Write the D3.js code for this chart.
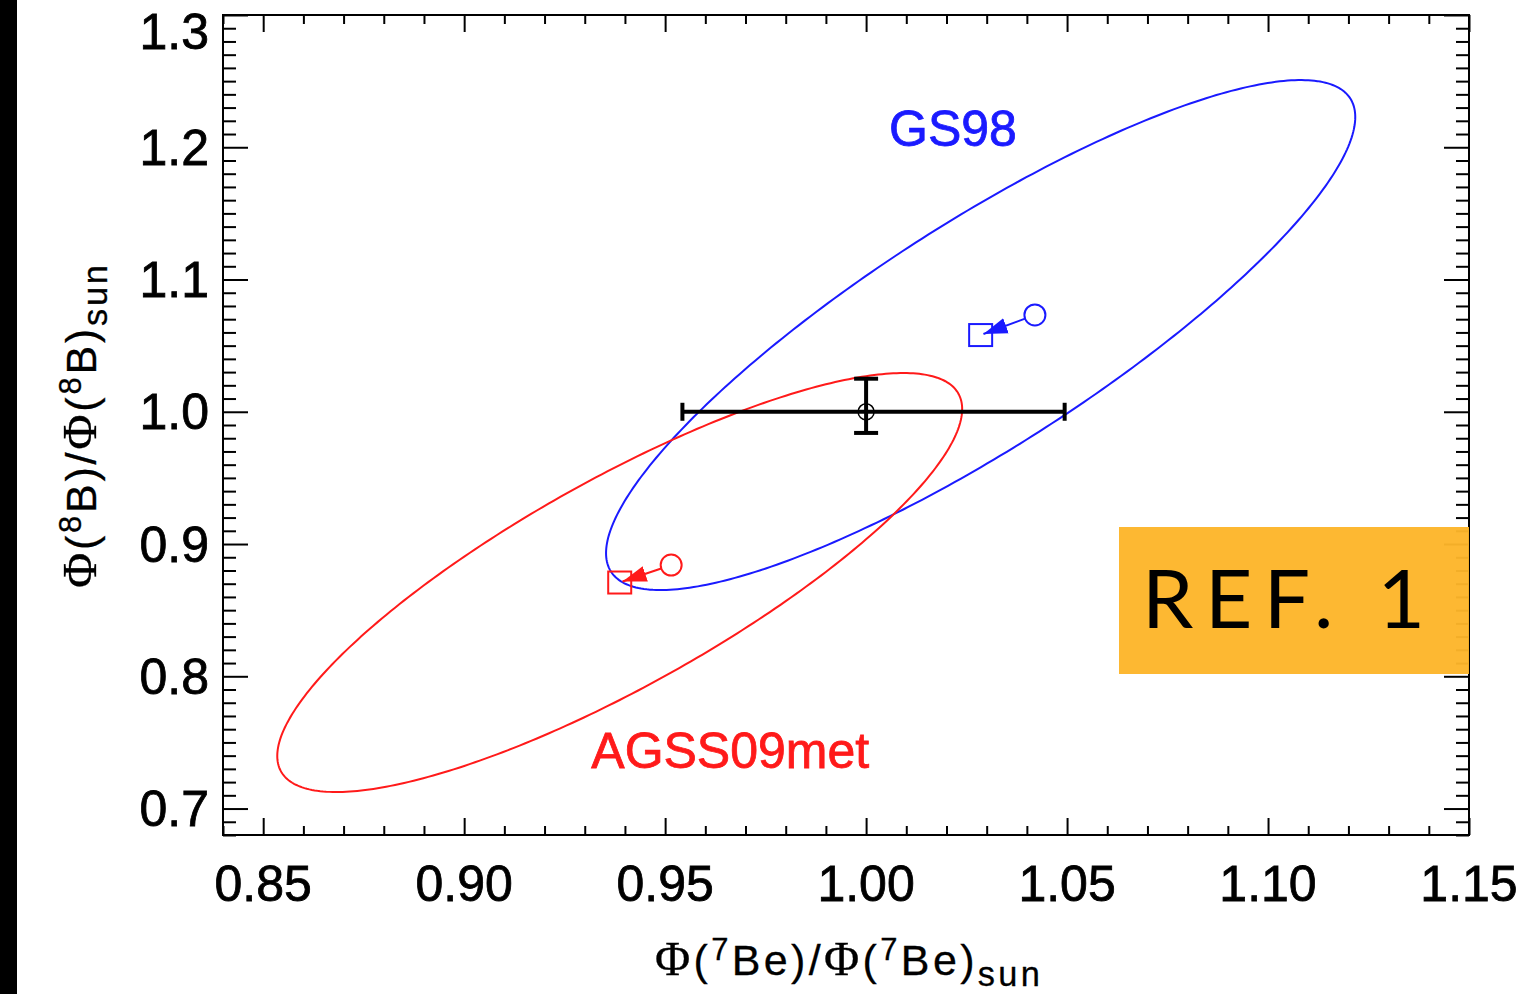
<!DOCTYPE html>
<html>
<head>
<meta charset="utf-8">
<script src="https://cdn.jsdelivr.net/npm/d3@7"></script>
<style>
  body { margin: 0; background: #fff; }
  svg { display: block; }
  text { font-family: "Liberation Sans", Arial, sans-serif; }
</style>
</head>
<body>
<svg id="chart" width="1522" height="994"></svg>
<script>
// axis ticks
const xTicks = [0.85, 0.90, 0.95, 1.00, 1.05, 1.10, 1.15]
const yTicks = [0.7, 0.8, 0.9, 1.0, 1.1, 1.2, 1.3]

// solar models: square = prediction, circle = previous value, ellipse = 1 sigma
const models = ['GS98', 'AGSS09met']
const sqX = [1.0285, 0.9387]
const sqY = [1.058, 0.8709]
const circX = [1.0420, 0.9515]
const circY = [1.0732, 0.8841]
const ellSx = [0.0932, 0.0852]
const ellSy = [0.1928, 0.1584]
const ellRho = [0.855, 0.828]
const labelX = [1.0216, 0.9662]
const labelY = [1.201, 0.7307]

// measurement
const measX = [1.00]
const measY = [1.00]
const errXLow = [0.0457]
const errXHigh = [0.0494]
const errYUp = [0.025]
const errYDown = [0.016]

const colors = ['#1a1aff', '#ff1a1a']

const svg = d3.select('#chart')
const pLeft = 223, pRight = 1469, pTop = 15, pBottom = 835

const x = d3.scaleLinear().domain([0.84, 1.15]).range([pLeft, pRight])
const y = d3.scaleLinear().domain([0.68, 1.30]).range([pBottom, pTop])

svg.append('rect').attr('x', 0).attr('y', 0).attr('width', 17).attr('height', 994).attr('fill', '#000')

svg.append('defs').selectAll('marker')
    .data(models)
    .enter()
    .append('marker')
        .attr('id', (d, i) => 'arrow' + i)
        .attr('viewBox', '0 -10 24 20')
        .attr('refX', 24).attr('refY', 0)
        .attr('markerUnits', 'userSpaceOnUse')
        .attr('markerWidth', 24).attr('markerHeight', 20)
        .attr('orient', 'auto')
    .append('path')
        .attr('d', 'M0,-8L24,0L0,8Z')
        .attr('fill', (d, i) => colors[i])

// ticks, mirrored on all sides
const minorX = d3.range(84, 116).map(v => v / 100).filter(v => !xTicks.some(t => Math.abs(t - v) < 1e-6))
const minorY = d3.range(68, 131).map(v => v / 100).filter(v => !yTicks.some(t => Math.abs(t - v) < 1e-6))

function tickAxis(axisFn, scale, vals, size, tr){
    const g = svg.append('g')
        .attr('transform', tr)
        .call(axisFn(scale).tickValues(vals).tickSize(size).tickFormat(''))
    g.select('.domain').remove()
    g.selectAll('line').attr('stroke', '#000').attr('stroke-width', 2)
    return g
}
tickAxis(d3.axisBottom, x, xTicks, -17, `translate(0,${pBottom})`)
tickAxis(d3.axisBottom, x, minorX, -9, `translate(0,${pBottom})`)
tickAxis(d3.axisTop, x, xTicks, -17, `translate(0,${pTop})`)
tickAxis(d3.axisTop, x, minorX, -9, `translate(0,${pTop})`)
tickAxis(d3.axisLeft, y, yTicks, -25, `translate(${pLeft},0)`)
tickAxis(d3.axisLeft, y, minorY, -13, `translate(${pLeft},0)`)
tickAxis(d3.axisRight, y, yTicks, -25, `translate(${pRight},0)`)
tickAxis(d3.axisRight, y, minorY, -13, `translate(${pRight},0)`)

svg.append('rect')
    .attr('x', pLeft).attr('y', pTop)
    .attr('width', pRight - pLeft).attr('height', pBottom - pTop)
    .attr('fill', 'none').attr('stroke', '#000').attr('stroke-width', 2)

// tick labels
svg.selectAll('.xlab')
    .data(xTicks)
    .enter()
    .append('text')
        .attr('x', d => x(d))
        .attr('y', 901)
        .attr('text-anchor', 'middle')
        .style('font-size', '50px')
        .attr('stroke', '#000').attr('stroke-width', 0.8)
        .text(d3.format('.2f'))

svg.selectAll('.ylab')
    .data(yTicks)
    .enter()
    .append('text')
        .attr('x', 209)
        .attr('y', d => Math.max(y(d), 31))
        .attr('dy', '0.35em')
        .attr('text-anchor', 'end')
        .style('font-size', '50px')
        .attr('stroke', '#000').attr('stroke-width', 0.8)
        .text(d3.format('.1f'))

// ellipses
const line = d3.line().curve(d3.curveLinearClosed)
models.forEach((m, i) => {
    const pts = d3.range(0, 360, 1).map(a => {
        const t = a * Math.PI / 180
        const dx = ellSx[i] * Math.cos(t)
        const dy = ellSy[i] * (ellRho[i] * Math.cos(t) + Math.sqrt(1 - ellRho[i] * ellRho[i]) * Math.sin(t))
        return [x(sqX[i] + dx), y(sqY[i] + dy)]
    })
    svg.append('path')
        .attr('d', line(pts))
        .attr('fill', 'none')
        .attr('stroke', colors[i])
        .attr('stroke-width', 2)
})

// measurement with error bars
const meas = svg.append('g')
measX.forEach((mx, i) => {
    const my = measY[i]
    meas.append('line')
        .attr('x1', x(mx - errXLow[i])).attr('x2', x(mx + errXHigh[i]))
        .attr('y1', y(my)).attr('y2', y(my))
    ;[mx - errXLow[i], mx + errXHigh[i]].forEach(v => {
        meas.append('line').attr('x1', x(v)).attr('x2', x(v)).attr('y1', y(my) - 9).attr('y2', y(my) + 9)
    })
    meas.append('line')
        .attr('x1', x(mx)).attr('x2', x(mx))
        .attr('y1', y(my + errYUp[i])).attr('y2', y(my - errYDown[i]))
    ;[my + errYUp[i], my - errYDown[i]].forEach(v => {
        meas.append('line').attr('x1', x(mx) - 12).attr('x2', x(mx) + 12).attr('y1', y(v)).attr('y2', y(v))
    })
    meas.selectAll('line').attr('stroke', '#000').attr('stroke-width', 4)
    meas.append('circle')
        .attr('cx', x(mx)).attr('cy', y(my)).attr('r', 8)
        .attr('fill', 'none').attr('stroke', '#000').attr('stroke-width', 1.5)
})

// model points and arrows
models.forEach((m, i) => {
    const cx = x(circX[i]), cy = y(circY[i])
    const sx = x(sqX[i]), sy = y(sqY[i])
    const len = Math.hypot(sx - cx, sy - cy)
    const ux = (sx - cx) / len, uy = (sy - cy) / len
    svg.append('rect')
        .attr('x', sx - 11.5).attr('y', sy - 11)
        .attr('width', 23).attr('height', 22)
        .attr('fill', 'none').attr('stroke', colors[i]).attr('stroke-width', 2)
    svg.append('circle')
        .attr('cx', cx).attr('cy', cy).attr('r', 10.5)
        .attr('fill', 'none').attr('stroke', colors[i]).attr('stroke-width', 2)
    svg.append('line')
        .attr('x1', cx + ux * 10.5).attr('y1', cy + uy * 10.5)
        .attr('x2', sx - ux * 3).attr('y2', sy - uy * 3)
        .attr('stroke', colors[i]).attr('stroke-width', 2)
        .attr('marker-end', `url(#arrow${i})`)
    svg.append('text')
        .attr('x', x(labelX[i])).attr('y', y(labelY[i]))
        .attr('text-anchor', 'middle')
        .attr('fill', colors[i])
        .attr('stroke', colors[i]).attr('stroke-width', 0.8)
        .style('font-size', '50px')
        .text(m)
})

// axis titles
function fluxTitle(sel, iso, el, f){
    const up = Math.round(f * 0.36), down = Math.round(f * 0.25)
    ;[0, 1].forEach(k => {
        sel.append('tspan').style('font-family', '"Liberation Serif", serif').style('font-size', (f * 1.12) + 'px').text('Φ')
        sel.append('tspan').text('(')
        sel.append('tspan').attr('dy', -up).style('font-size', (f * 0.72) + 'px').text(iso)
        sel.append('tspan').attr('dy', up).text(k == 0 ? el + ')/' : el + ')')
    })
    sel.append('tspan').attr('dy', down).style('font-size', (f * 0.8) + 'px').text('sun')
}

const xt = svg.append('text')
    .attr('x', 655).attr('y', 975)
    .attr('textLength', 385).attr('lengthAdjust', 'spacing')
    .style('font-size', '43px')
    .attr('stroke', '#000').attr('stroke-width', 0.3)
fluxTitle(xt, '7', 'Be', 43)

const yt = svg.append('text')
    .attr('transform', 'translate(96,588) rotate(-90)')
    .attr('textLength', 323).attr('lengthAdjust', 'spacing')
    .style('font-size', '43px')
    .attr('stroke', '#000').attr('stroke-width', 0.3)
fluxTitle(yt, '8', 'B', 43)

// reference tag
svg.append('rect')
    .attr('x', 1119).attr('y', 527)
    .attr('width', 350).attr('height', 147)
    .attr('fill', '#fdb52a').attr('fill-opacity', 0.96)
svg.append('text')
    .attr('x', 1142).attr('y', 628)
    .attr('textLength', 283).attr('lengthAdjust', 'spacing')
    .style('font-family', 'Lato, "Open Sans", sans-serif')
    .style('font-size', '82px')
    .attr('fill', '#000')
    .text('REF. 1')
</script>
</body>
</html>
